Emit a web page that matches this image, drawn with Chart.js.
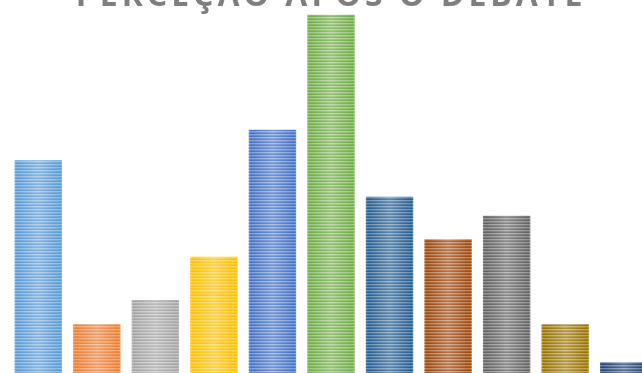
<!DOCTYPE html>
<html>
<head>
<meta charset="utf-8">
<script src="https://cdn.jsdelivr.net/npm/chart.js@4.4.1/dist/chart.umd.min.js"></script>
<style>
  html, body { margin: 0; padding: 0; width: 642px; height: 373px; overflow: hidden; background: #fff; }
  #wrap { position: absolute; left: 0; top: -26px; width: 662px; height: 405px; }
</style>
</head>
<body>
<div id="wrap"><canvas id="chart"></canvas></div>
<script>
// categories are below the visible area of the picture
var labels = ['1', '2', '3', '4', '5', '6', '7', '8', '9', '10', '11'];
var values = [14.4, 3.6, 5.2, 8.05, 16.4, 24.0, 12.0, 9.2, 10.75, 3.6, 1.1];
var barColors = ['#5B9BD5', '#ED7D31', '#A5A5A5', '#FFC000', '#4472C4', '#70AD47',
                 '#255E91', '#9E480E', '#636363', '#997300', '#264478'];
var titleText = 'PERCEÇÃO APÓS O DEBATE';

function mix(hex, t) {
    var r = parseInt(hex.substr(1, 2), 16), g = parseInt(hex.substr(3, 2), 16), b = parseInt(hex.substr(5, 2), 16);
    r = Math.round(r + (255 - r) * t); g = Math.round(g + (255 - g) * t); b = Math.round(b + (255 - b) * t);
    return 'rgb(' + r + ',' + g + ',' + b + ')';
}

// striped fill with a lighter middle, like the office "glow" bars
var patternCache = {};
function stripes(color, w) {
    var key = color + w;
    if (patternCache[key]) return patternCache[key];
    var c = document.createElement('canvas');
    c.width = w; c.height = 3;
    var g = c.getContext('2d');
    var rows = [0, 0.32, 0.12];
    for (var i = 0; i < 3; i++) {
        var grad = g.createLinearGradient(0, 0, w, 0);
        grad.addColorStop(0, mix(color, rows[i] + 0.12));
        grad.addColorStop(0.04, mix(color, rows[i]));
        grad.addColorStop(0.5, mix(color, rows[i] + 0.25));
        grad.addColorStop(0.96, mix(color, rows[i]));
        grad.addColorStop(1, mix(color, rows[i] + 0.12));
        g.fillStyle = grad;
        g.fillRect(0, i, w, 1);
    }
    var p = g.createPattern(c, 'repeat');
    patternCache[key] = p;
    return p;
}

function barFill(context) {
    var chart = context.chart;
    var i = context.dataIndex;
    var x = chart.scales.x;
    if (!x || i === undefined || !chart.chartArea) return barColors[i || 0];
    var pitch = x.width / labels.length;
    var w = Math.round(pitch * 0.81);
    if (!isFinite(w) || w < 2) return barColors[i];
    var left = x.getPixelForValue(i) - w / 2;
    var p = stripes(barColors[i], w);
    p.setTransform(new DOMMatrix().translate(left, 0));
    return p;
}

var spacing = {
    id: 'spacing',
    beforeDraw: function(chart) { chart.ctx.letterSpacing = '4px'; },
    afterDraw: function(chart) { chart.ctx.letterSpacing = '0px'; }
};

new Chart(document.getElementById('chart'), {
    type: 'bar',
    data: {
        labels: labels,
        datasets: [{
            label: 'Perceção',
            data: values,
            backgroundColor: barFill,
            borderWidth: 0,
            categoryPercentage: 1,
            barPercentage: 0.81
        }]
    },
    options: {
        responsive: true,
        maintainAspectRatio: false,
        animation: false,
        layout: { padding: { left: 9, right: 9, top: 0, bottom: 0 } },
        scales: {
            x: { display: false },
            y: { display: false, min: 0, max: 24 }
        },
        plugins: {
            legend: { display: false },
            tooltip: { enabled: false },
            title: {
                display: true,
                text: titleText,
                color: '#7F7F7F',
                font: { family: 'Open Sans', size: 32, weight: 'bold' },
                padding: { top: 4, bottom: -2 }
            }
        }
    },
    plugins: [spacing]
});
</script>
</body>
</html>
